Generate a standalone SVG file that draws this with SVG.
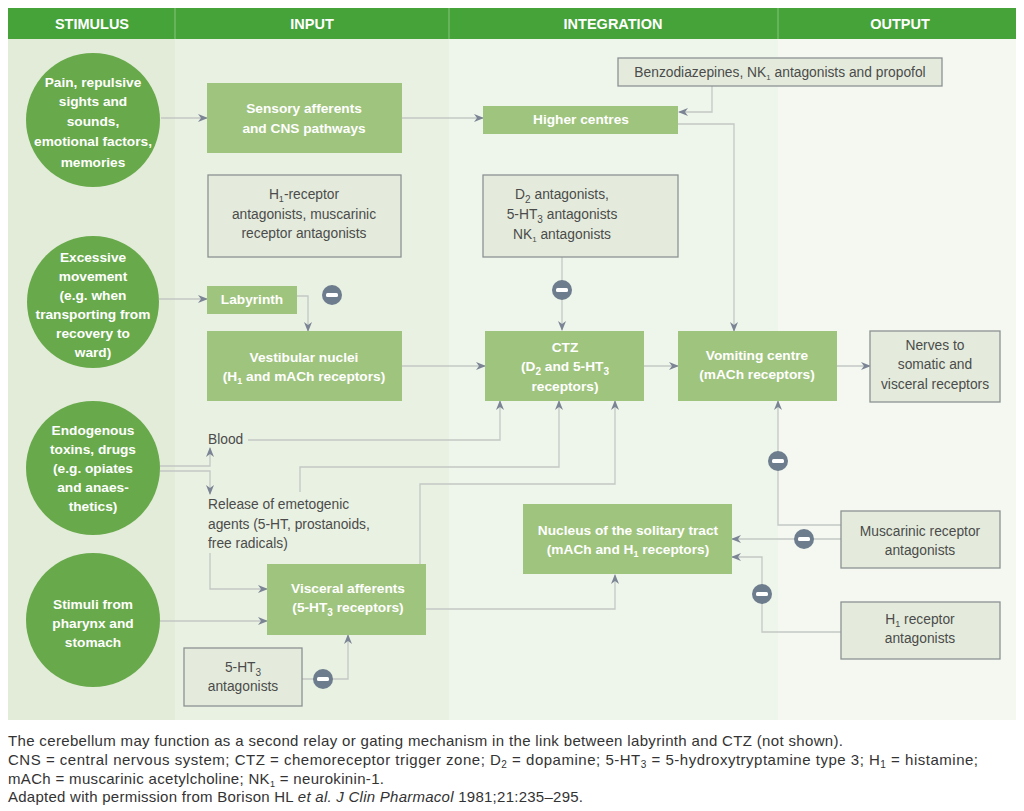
<svg xmlns="http://www.w3.org/2000/svg" width="1024" height="811" viewBox="0 0 1024 811">
<defs>
<marker id="arr" viewBox="0 0 10 8" refX="9" refY="4" markerWidth="10" markerHeight="8" markerUnits="userSpaceOnUse" orient="auto">
<path d="M0,0 L10,4 L0,8 L3,4 z" fill="#7b8494"/>
</marker>
<g id="inh"><circle r="10" fill="#6e7d8e"/><rect x="-6" y="-2" width="12" height="4" rx="1.5" fill="#ffffff"/></g>
</defs>
<style>
.hdr{font-family:"Liberation Sans",Arial,sans-serif;font-weight:bold;font-size:14.5px;fill:#ffffff;text-anchor:middle}
.circ{fill:#68a94b}
.ct{font-family:"Liberation Sans",Arial,sans-serif;font-weight:bold;font-size:13.7px;fill:#ffffff;text-anchor:middle}
.gb{fill:#9fc47e}
.gt{font-family:"Liberation Sans",Arial,sans-serif;font-weight:bold;font-size:13.7px;fill:#ffffff;text-anchor:middle}
.qb{fill:#e4ebdc;stroke:#8d9294;stroke-width:1.3}
.qt{font-family:"Liberation Sans",Arial,sans-serif;font-size:13.8px;fill:#4b4b4b;text-anchor:middle}
.lt{font-family:"Liberation Sans",Arial,sans-serif;font-size:13.8px;fill:#4b4b4b}
.ft{font-family:"Liberation Sans",Arial,sans-serif;font-size:15px;fill:#333333}
.cn{fill:none;stroke:#c3c8c5;stroke-width:1.3;marker-end:url(#arr)}
</style>
<rect width="1024" height="811" fill="#ffffff"/>
<g id="background">
<rect x="8" y="39" width="167" height="681" fill="#e2ecd8"/>
<rect x="175" y="39" width="274" height="681" fill="#e9f1e2"/>
<rect x="449" y="39" width="329" height="681" fill="#eef5ea"/>
<rect x="778" y="39" width="238" height="681" fill="#f4f8f1"/>
<rect x="8" y="8" width="1008" height="31" fill="#45a33a"/>
<line x1="175" y1="8" x2="175" y2="39" stroke="#86c57a" stroke-width="1"/>
<line x1="449" y1="8" x2="449" y2="39" stroke="#86c57a" stroke-width="1"/>
<line x1="778" y1="8" x2="778" y2="39" stroke="#86c57a" stroke-width="1"/>
<text class="hdr" x="92" y="29">STIMULUS</text>
<text class="hdr" x="312" y="29">INPUT</text>
<text class="hdr" x="613" y="29">INTEGRATION</text>
<text class="hdr" x="900" y="29">OUTPUT</text>
</g>
<g id="connectors">
<path class="cn" d="M161,118 H207"/>
<path class="cn" d="M402,118 H483"/>
<path class="cn" d="M712,86 V112 H679"/>
<path class="cn" d="M678,124 H734 V331"/>
<path class="cn" d="M562,257 V330"/>
<path class="cn" d="M159,299 H207"/>
<path class="cn" d="M297,296 H308 V331"/>
<path class="cn" d="M402,366 H485"/>
<path class="cn" d="M644,366 H678"/>
<path class="cn" d="M837,366 H870"/>
<path class="cn" d="M160,466 H210 V448"/>
<path class="cn" d="M160,471 H210 V494"/>
<path class="cn" d="M248,440 H500 V401"/>
<path class="cn" d="M300,492 V467 H559 V401"/>
<path class="cn" d="M420,564 V484 H615 V401"/>
<path class="cn" d="M210,553 V589 H267"/>
<path class="cn" d="M160,621 H267"/>
<path class="cn" d="M302,679 H348 V635"/>
<path class="cn" d="M426,609 H615 V575"/>
<path class="cn" d="M841,525 H778 V401"/>
<path class="cn" d="M841,539 H732"/>
<path class="cn" d="M841,632 H762 V557 H732"/>
<use href="#inh" x="332" y="295"/>
<use href="#inh" x="562" y="290"/>
<use href="#inh" x="323" y="679"/>
<use href="#inh" x="778" y="461"/>
<use href="#inh" x="804" y="539"/>
<use href="#inh" x="762" y="594"/>
</g>
<g id="pain">
<circle class="circ" cx="93" cy="120" r="67"/>
<text class="ct" x="93" y="87">Pain, repulsive</text>
<text class="ct" x="93" y="106">sights and</text>
<text class="ct" x="93" y="126">sounds,</text>
<text class="ct" x="93" y="146">emotional factors,</text>
<text class="ct" x="93" y="167">memories</text>
</g>
<g id="excessive">
<circle class="circ" cx="93" cy="302" r="66"/>
<text class="ct" x="93" y="262">Excessive</text>
<text class="ct" x="93" y="281">movement</text>
<text class="ct" x="93" y="300">(e.g. when</text>
<text class="ct" x="93" y="319">transporting from</text>
<text class="ct" x="93" y="338">recovery to</text>
<text class="ct" x="93" y="357">ward)</text>
</g>
<g id="endogenous">
<circle class="circ" cx="93" cy="468" r="67"/>
<text class="ct" x="93" y="435">Endogenous</text>
<text class="ct" x="93" y="454">toxins, drugs</text>
<text class="ct" x="93" y="473">(e.g. opiates</text>
<text class="ct" x="93" y="492">and anaes-</text>
<text class="ct" x="93" y="511">thetics)</text>
</g>
<g id="stimuli">
<circle class="circ" cx="93" cy="620" r="67"/>
<text class="ct" x="93" y="609">Stimuli from</text>
<text class="ct" x="93" y="628">pharynx and</text>
<text class="ct" x="93" y="647">stomach</text>
</g>
<g id="sensory">
<rect class="gb" x="207" y="83" width="195" height="70"/>
<text class="gt" x="304" y="113">Sensory afferents</text>
<text class="gt" x="304" y="133">and CNS pathways</text>
</g>
<g id="h1box">
<rect class="qb" x="208" y="175" width="193" height="82"/>
<text class="qt" x="304" y="199">H<tspan font-size="9" dy="3">1</tspan><tspan dy="-3">-receptor</tspan></text>
<text class="qt" x="304" y="219">antagonists, muscarinic</text>
<text class="qt" x="304" y="238">receptor antagonists</text>
</g>
<g id="labyrinth">
<rect class="gb" x="207" y="286" width="90" height="28"/>
<text class="gt" x="252" y="304">Labyrinth</text>
</g>
<g id="vestibular">
<rect class="gb" x="207" y="331" width="195" height="70"/>
<text class="gt" x="304" y="362">Vestibular nuclei</text>
<text class="gt" x="304" y="381">(H<tspan font-size="9" dy="3">1</tspan><tspan dy="-3"> and mACh receptors)</tspan></text>
</g>
<g id="blood">
<text class="lt" x="208" y="444">Blood</text>
</g>
<g id="release">
<text class="lt" x="208" y="509">Release of emetogenic</text>
<text class="lt" x="208" y="529">agents (5-HT, prostanoids,</text>
<text class="lt" x="208" y="548">free radicals)</text>
</g>
<g id="visceral">
<rect class="gb" x="267" y="564" width="159" height="71"/>
<text class="gt" x="348" y="593">Visceral afferents</text>
<text class="gt" x="348" y="612">(5-HT<tspan font-size="10" dy="4">3</tspan><tspan dy="-4"> receptors)</tspan></text>
</g>
<g id="ht3box">
<rect class="qb" x="184" y="648" width="118" height="58"/>
<text class="qt" x="243" y="672">5-HT<tspan font-size="10" dy="4">3</tspan></text>
<text class="qt" x="243" y="691">antagonists</text>
</g>
<g id="benzo">
<rect class="qb" x="618" y="58" width="324" height="28"/>
<text class="qt" x="780" y="77">Benzodiazepines, NK<tspan font-size="8" dy="3">1</tspan><tspan dy="-3"> antagonists and propofol</tspan></text>
</g>
<g id="higher">
<rect class="gb" x="483" y="106" width="195" height="28"/>
<text class="gt" x="581" y="124">Higher centres</text>
</g>
<g id="d2box">
<rect class="qb" x="483" y="175" width="195" height="82"/>
<text class="qt" x="562" y="199">D<tspan font-size="10" dy="4">2</tspan><tspan dy="-4"> antagonists,</tspan></text>
<text class="qt" x="562" y="219">5-HT<tspan font-size="10" dy="4">3</tspan><tspan dy="-4"> antagonists</tspan></text>
<text class="qt" x="562" y="239">NK<tspan font-size="8" dy="3">1</tspan><tspan dy="-3"> antagonists</tspan></text>
</g>
<g id="ctz">
<rect class="gb" x="485" y="331" width="159" height="70"/>
<text class="gt" x="565" y="352">CTZ</text>
<text class="gt" x="565" y="371">(D<tspan font-size="10" dy="4">2</tspan><tspan dy="-4"> and 5-HT</tspan><tspan font-size="10" dy="4">3</tspan></text>
<text class="gt" x="565" y="391">receptors)</text>
</g>
<g id="vomiting">
<rect class="gb" x="678" y="331" width="159" height="70"/>
<text class="gt" x="757" y="360">Vomiting centre</text>
<text class="gt" x="757" y="379">(mACh receptors)</text>
</g>
<g id="nerves">
<rect class="qb" x="870" y="331" width="130" height="71"/>
<text class="qt" x="935" y="350">Nerves to</text>
<text class="qt" x="935" y="369">somatic and</text>
<text class="qt" x="935" y="389">visceral receptors</text>
</g>
<g id="nts">
<rect class="gb" x="523" y="504" width="209" height="70"/>
<text class="gt" x="628" y="535">Nucleus of the solitary tract</text>
<text class="gt" x="628" y="554">(mACh and H<tspan font-size="9" dy="3">1</tspan><tspan dy="-3"> receptors)</tspan></text>
</g>
<g id="muscarinic">
<rect class="qb" x="841" y="511" width="159" height="57"/>
<text class="qt" x="920" y="536">Muscarinic receptor</text>
<text class="qt" x="920" y="555">antagonists</text>
</g>
<g id="h1ant">
<rect class="qb" x="841" y="602" width="159" height="57"/>
<text class="qt" x="920" y="624">H<tspan font-size="9" dy="3">1</tspan><tspan dy="-3"> receptor</tspan></text>
<text class="qt" x="920" y="643">antagonists</text>
</g>
<g id="footnote">
<text class="ft" x="8" y="746" textLength="835" lengthAdjust="spacing">The cerebellum may function as a second relay or gating mechanism in the link between labyrinth and CTZ (not shown).</text>
<text class="ft" x="8" y="765" textLength="970" lengthAdjust="spacing">CNS = central nervous system; CTZ = chemoreceptor trigger zone; D<tspan font-size="10" dy="3">2</tspan><tspan dy="-3"> = dopamine; 5-HT</tspan><tspan font-size="10" dy="3">3</tspan><tspan dy="-3"> = 5-hydroxytryptamine type 3; H</tspan><tspan font-size="10" dy="3">1</tspan><tspan dy="-3"> = histamine;</tspan></text>
<text class="ft" x="8" y="784" textLength="376" lengthAdjust="spacing">mACh = muscarinic acetylcholine; NK<tspan font-size="9" dy="3">1</tspan><tspan dy="-3"> = neurokinin-1.</tspan></text>
<text class="ft" x="8" y="802" textLength="575" lengthAdjust="spacing">Adapted with permission from Borison HL <tspan font-style="italic">et al. J Clin Pharmacol</tspan> 1981;21:235–295.</text>
</g>
</svg>
